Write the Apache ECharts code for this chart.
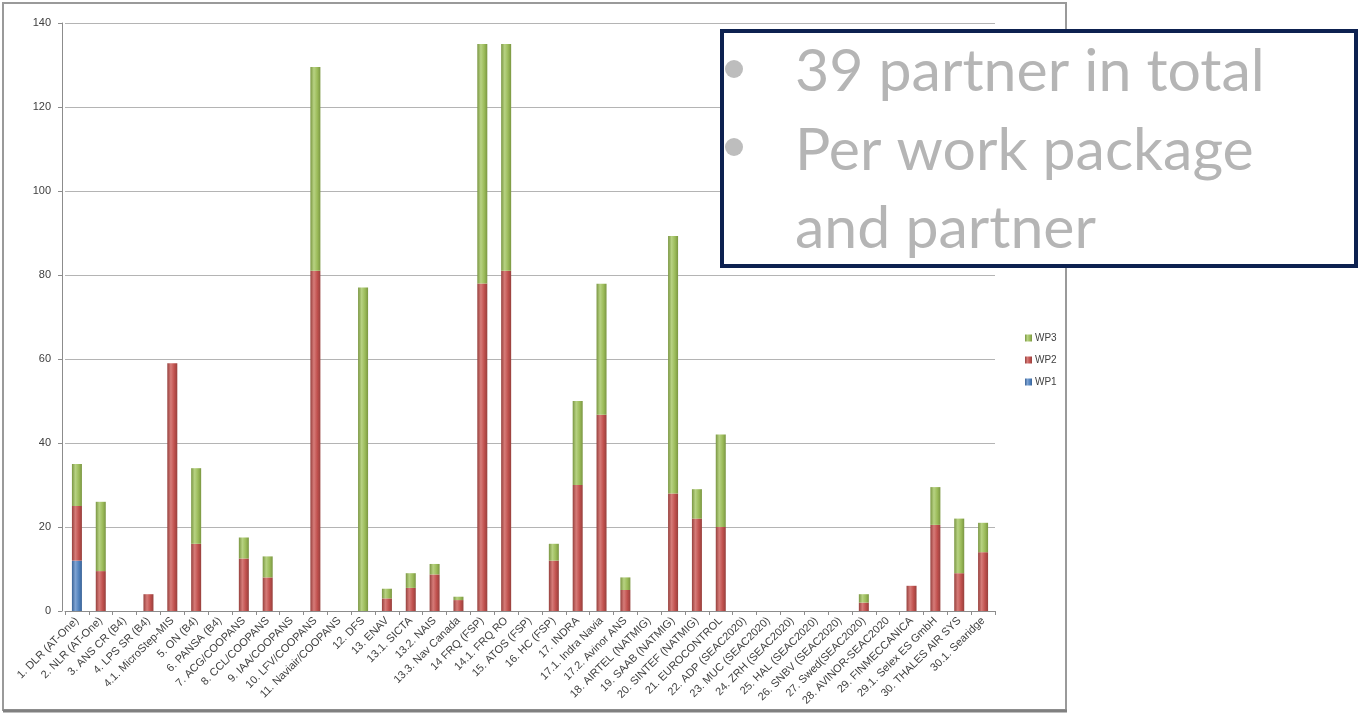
<!DOCTYPE html>
<html>
<head>
<meta charset="utf-8">
<script src="https://cdn.jsdelivr.net/npm/echarts@6/dist/echarts.min.js"></script>
<style>
html,body{margin:0;padding:0;background:#fff;}
#chart{width:1361px;height:717px;}
</style>
</head>
<body>
<div id="chart"></div>
<script>
var categories = [
  '1. DLR (AT-One)', '2. NLR (AT-One)', '3. ANS CR (B4)', '4. LPS SR (B4)', '4.1. MicroStep-MIS',
  '5. ON (B4)', '6. PANSA (B4)', '7. ACG/COOPANS', '8. CCL/COOPANS', '9. IAA/COOPANS',
  '10. LFV/COOPANS', '11. Naviair/COOPANS', '12. DFS', '13. ENAV', '13.1. SICTA',
  '13.2. NAIS', '13.3. Nav Canada', '14 FRQ (FSP)', '14.1. FRQ RO', '15. ATOS (FSP)',
  '16. HC (FSP)', '17. INDRA', '17.1. Indra Navia', '17.2. Avinor ANS', '18. AIRTEL (NATMIG)',
  '19. SAAB (NATMIG)', '20. SINTEF (NATMIG)', '21. EUROCONTROL', '22. ADP (SEAC2020)', '23. MUC (SEAC2020)',
  '24. ZRH (SEAC2020)', '25. HAL (SEAC2020)', '26. SNBV (SEAC2020)', '27. Swed(SEAC2020)', '28. AVINOR-SEAC2020',
  '29. FINMECCANICA', '29.1. Selex ES GmbH', '30. THALES AIR SYS', '30.1. Searidge'
];
var wp1 = [12, 0, 0, 0, 0, 0, 0, 0, 0, 0, 0, 0, 0, 0, 0, 0, 0, 0, 0, 0, 0, 0, 0, 0, 0, 0, 0, 0, 0, 0, 0, 0, 0, 0, 0, 0, 0, 0, 0];
var wp2 = [13, 9.5, 0, 4, 59, 16, 0, 12.5, 8, 0, 81, 0, 0, 3, 5.5, 8.7, 2.6, 78, 81, 0, 12, 30, 46.7, 5, 0, 28, 22, 20, 0, 0, 0, 0, 0, 2, 0, 6, 20.5, 9, 14];
var wp3 = [10, 16.5, 0, 0, 0, 18, 0, 5, 5, 0, 48.5, 0, 77, 2.3, 3.5, 2.5, 0.8, 57, 54, 0, 4, 20, 31.2, 3, 0, 61.3, 7, 22, 0, 0, 0, 0, 0, 2, 0, 0, 9, 13, 7];
var noteLines = ['39 partner in total', 'Per work package', 'and partner'];

var chart = echarts.init(document.getElementById('chart'), null, {renderer: 'canvas'});

function cyl(dark, mid, light) {
  return new echarts.graphic.LinearGradient(0, 0, 1, 0, [
    {offset: 0, color: dark},
    {offset: 0.35, color: light},
    {offset: 0.7, color: mid},
    {offset: 1, color: dark}
  ]);
}
var blue = cyl('#3a6396', '#4f81bd', '#7ea3d3');
var red = cyl('#96403d', '#c0504d', '#d67b78');
var green = cyl('#7a9642', '#9bbb59', '#b7d282');

function nz(arr) { return arr.map(function (v) { return v === 0 ? null : v; }); }

var option = {
  backgroundColor: '#ffffff',
  animation: false,
  grid: {left: 65, right: 366, top: 23, bottom: 106, containLabel: false},
  legend: {
    data: ['WP3', 'WP2', 'WP1'],
    orient: 'vertical',
    left: 1020, top: 328,
    itemWidth: 7, itemHeight: 7, itemGap: 12,
    icon: 'rect',
    textStyle: {fontFamily: 'Liberation Sans', fontSize: 10, color: '#404040', padding: [0, 0, 0, -2]}
  },
  xAxis: {
    type: 'category',
    data: categories,
    axisLine: {show: true, lineStyle: {color: '#8c8c8c', width: 1}},
    axisTick: {show: true, length: 4, lineStyle: {color: '#8c8c8c'}},
    axisLabel: {
      interval: 0, rotate: 45, margin: 8,
      fontFamily: 'Liberation Sans', fontSize: 11, color: '#404040'
    }
  },
  yAxis: {
    type: 'value', min: 0, max: 140, interval: 20,
    offset: 3,
    axisLine: {show: true, lineStyle: {color: '#8c8c8c'}},
    axisTick: {show: true, length: 4, lineStyle: {color: '#8c8c8c'}},
    axisLabel: {fontFamily: 'Liberation Sans', fontSize: 11, color: '#404040', margin: 11},
    splitLine: {show: true, lineStyle: {color: '#b4b4b4', width: 1}}
  },
  series: [
    {name: 'WP1', type: 'bar', stack: 'wp', data: nz(wp1), barWidth: 10,
     itemStyle: {color: blue}, emphasis: {disabled: true}},
    {name: 'WP2', type: 'bar', stack: 'wp', data: nz(wp2), barWidth: 10,
     itemStyle: {color: red}, emphasis: {disabled: true}},
    {name: 'WP3', type: 'bar', stack: 'wp', data: nz(wp3), barWidth: 10,
     itemStyle: {color: green}, emphasis: {disabled: true}}
  ],
  graphic: [
    {type: 'rect', z: -1, silent: true,
     shape: {x: 3, y: 3, width: 1063, height: 707},
     style: {fill: 'none', stroke: '#9a9a9a', lineWidth: 2}},
    {type: 'line', silent: true, shape: {x1: 3, y1: 711, x2: 1067, y2: 711},
     style: {stroke: '#808080', lineWidth: 3}},
    {type: 'rect', silent: true, z: 100,
     shape: {x: 722, y: 31, width: 634, height: 235},
     style: {fill: '#ffffff', stroke: '#0d2150', lineWidth: 4}},
    {type: 'circle', silent: true, z: 101, shape: {cx: 734, cy: 69, r: 9}, style: {fill: '#bdbdbd'}},
    {type: 'circle', silent: true, z: 101, shape: {cx: 734, cy: 147, r: 9}, style: {fill: '#bdbdbd'}},
    {type: 'text', silent: true, z: 101, left: 795, top: 42,
     style: {text: noteLines[0], fill: '#b5b5b5', font: '59px Lato'}},
    {type: 'text', silent: true, z: 101, left: 795, top: 121,
     style: {text: noteLines[1], fill: '#b5b5b5', font: '59px Lato'}},
    {type: 'text', silent: true, z: 101, left: 795, top: 199,
     style: {text: noteLines[2], fill: '#b5b5b5', font: '59px Lato'}}
  ]
};
chart.setOption(option);
</script>
</body>
</html>
